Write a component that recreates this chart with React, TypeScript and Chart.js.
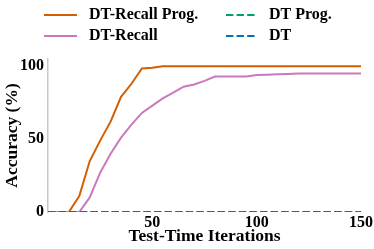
import React, { useEffect, useRef } from "react";
import { Chart, registerables } from "chart.js";

Chart.register(...registerables);

const iterations = Array.from({ length: 31 }, (_, i) => i * 5);
const dtRecallProg = [0, 0, 0, 11, 35, 49, 62, 79, 88, 98.5, 99, 100, 100, 100, 100, 100, 100, 100, 100, 100, 100, 100, 100, 100, 100, 100, 100, 100, 100, 100, 100];
const dtRecall = [0, 0, 0, 0, 10, 27, 40, 51, 60, 68, 73, 78, 82, 86, 87.5, 90, 93, 93, 93, 93, 94, 94.2, 94.5, 94.7, 95, 95, 95, 95, 95, 95, 95];
const dtProg = [0, 0, 0, 0, 0, 0, 0, 0, 0, 0, 0, 0, 0, 0, 0, 0, 0, 0, 0, 0, 0, 0, 0, 0, 0, 0, 0, 0, 0, 0, 0];
const dt = [0, 0, 0, 0, 0, 0, 0, 0, 0, 0, 0, 0, 0, 0, 0, 0, 0, 0, 0, 0, 0, 0, 0, 0, 0, 0, 0, 0, 0, 0, 0];
const yTicks = [0, 50, 100];
const xTicks = [50, 100, 150];

const FONT = "'Liberation Serif', 'Times New Roman', serif";
const DASH = [7.4, 3.2];

const legendPlugin = {
  id: "customLegend",
  afterDraw(chart: any) {
    const ctx = chart.ctx;
    const items = [
      { ds: 0, x: 44, y: 15 },
      { ds: 2, x: 226, y: 15 },
      { ds: 1, x: 44, y: 36 },
      { ds: 3, x: 226, y: 36 },
    ];
    ctx.save();
    ctx.font = `bold 16px ${FONT}`;
    ctx.textBaseline = "middle";
    ctx.textAlign = "left";
    for (const it of items) {
      const d = chart.data.datasets[it.ds];
      ctx.beginPath();
      ctx.strokeStyle = d.borderColor;
      ctx.lineWidth = 2;
      ctx.setLineDash(d.borderDash || []);
      ctx.moveTo(it.x, it.y);
      ctx.lineTo(it.x + (it.x > 100 ? 30 : 33), it.y);
      ctx.stroke();
      ctx.setLineDash([]);
      ctx.fillStyle = "#000";
      ctx.fillText(d.label, it.x + (it.x > 100 ? 43 : 45), it.y);
    }
    ctx.restore();
  },
};

export default function App() {
  const ref = useRef<HTMLCanvasElement>(null);
  useEffect(() => {
    document.body.style.margin = "0";
    const chart = new Chart(ref.current!, {
      type: "line",
      data: {
        labels: iterations,
        datasets: [
          { label: "DT-Recall Prog.", data: dtRecallProg, borderColor: "#d55e00", borderWidth: 2, pointRadius: 0, order: 3 },
          { label: "DT-Recall", data: dtRecall, borderColor: "#cc78bc", borderWidth: 2, pointRadius: 0, order: 2 },
          { label: "DT Prog.", data: dtProg, borderColor: "#029e73", borderWidth: 2, borderDash: DASH, pointRadius: 0, order: 1 },
          { label: "DT", data: dt, borderColor: "#0173b2", borderWidth: 2, borderDash: DASH, pointRadius: 0, order: 0 },
        ] as any,
      },
      options: {
        animation: false,
        responsive: false,
        layout: { padding: { top: 59, right: 13, left: 0, bottom: 0 } },
        plugins: { legend: { display: false }, tooltip: { enabled: false } },
        scales: {
          x: {
            type: "linear",
            min: 0,
            max: 150,
            grid: { display: false, drawTicks: false },
            border: { display: false },
            afterBuildTicks: (s: any) => { s.ticks = xTicks.map((v) => ({ value: v })); },
            afterFit: (s: any) => { s.height = 37; },
            ticks: { color: "#000", padding: 1, maxRotation: 0, font: { family: FONT, size: 16, weight: "bold" } },
            title: { display: true, text: "Test-Time Iterations", color: "#000", padding: { top: 0, bottom: 2 }, font: { family: FONT, size: 17.5, weight: "bold" } },
          },
          y: {
            min: 0,
            max: 105,
            grid: { display: false, drawTicks: false },
            border: { display: true, color: "#c8c8c8", width: 1.5 },
            afterBuildTicks: (s: any) => { s.ticks = yTicks.map((v) => ({ value: v })); },
            afterFit: (s: any) => { s.width = 48; },
            ticks: { color: "#000", padding: 4, font: { family: FONT, size: 16, weight: "bold" } },
            title: { display: true, text: "Accuracy (%)", color: "#000", padding: { top: 2, bottom: 0 }, font: { family: FONT, size: 17.5, weight: "bold" } },
          },
        },
      } as any,
      plugins: [legendPlugin],
    });
    return () => chart.destroy();
  }, []);
  return <canvas ref={ref} width={374} height={249} style={{ display: "block", width: 374, height: 249 }} />;
}
